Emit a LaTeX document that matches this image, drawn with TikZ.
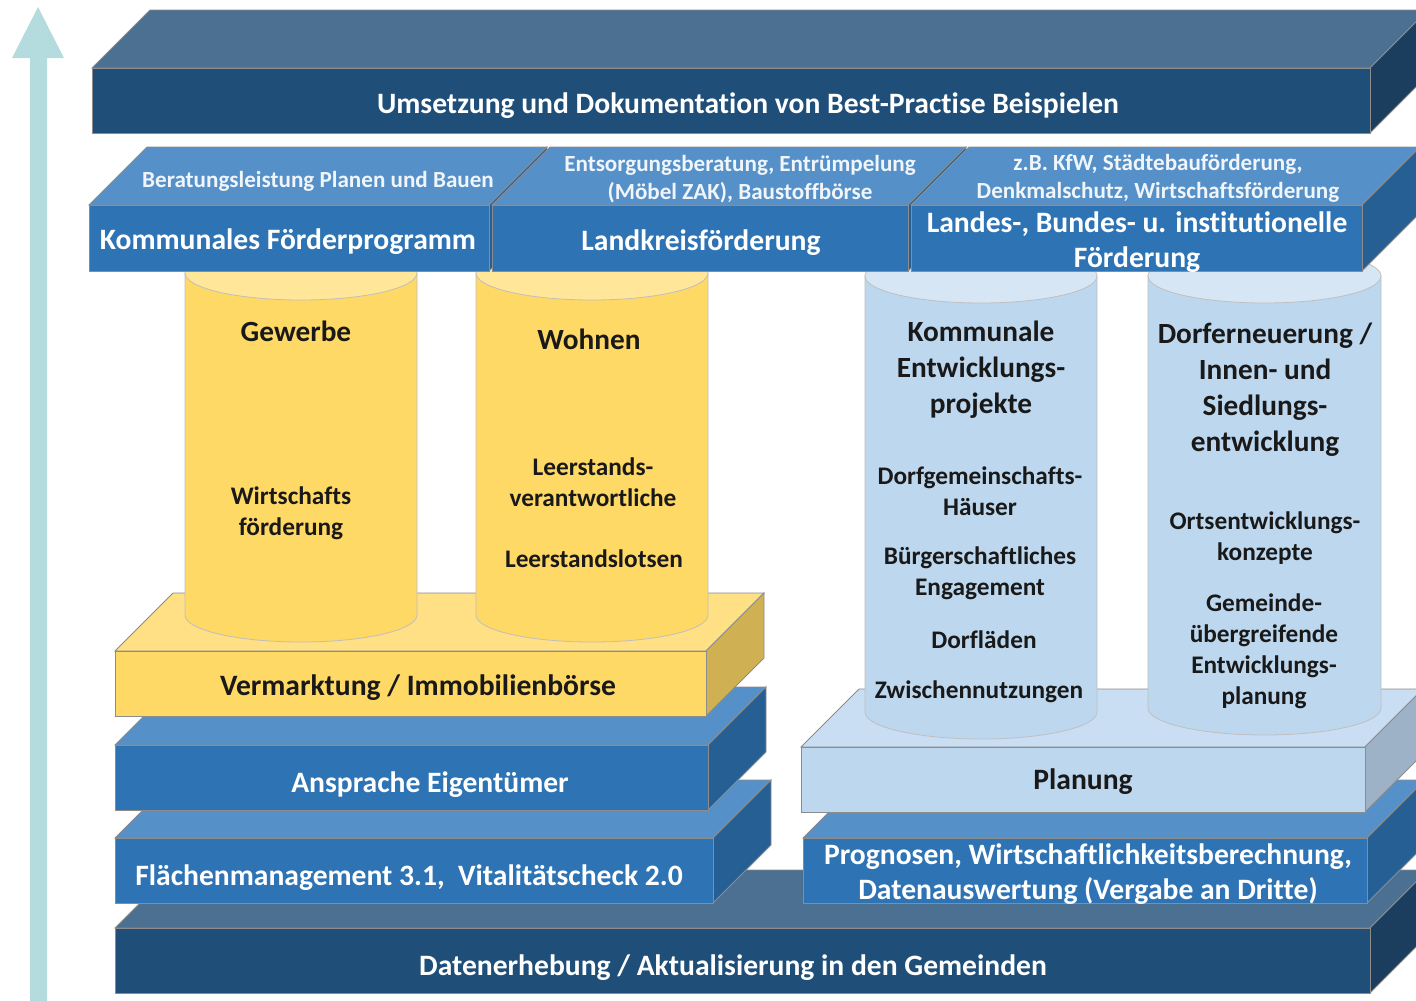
\documentclass[tikz,border=0pt]{standalone}
\usepackage{fontspec}
\setmainfont{Carlito}[Ligatures=NoCommon]

% colour families for the slabs: top face, front face, side face
\definecolor{navytop}{HTML}{4B7091}
\definecolor{navyfront}{HTML}{1F4E79}
\definecolor{navyside}{HTML}{1B3D5E}
\definecolor{bluetop}{HTML}{5690C8}
\definecolor{bluefront}{HTML}{2E74B5}
\definecolor{blueside}{HTML}{265F94}
\definecolor{goldtop}{HTML}{FFE084}
\definecolor{goldfront}{HTML}{FFD966}
\definecolor{goldside}{HTML}{CFB052}
\definecolor{skytop}{HTML}{C9DEF2}
\definecolor{skyfront}{HTML}{BDD7EE}
\definecolor{skyside}{HTML}{9DB2C7}
\definecolor{goldlid}{HTML}{FFE699}
\definecolor{skylid}{HTML}{D7E6F5}
\definecolor{pfeil}{HTML}{B4DCDE}
\definecolor{kante}{HTML}{8C8C8C}

\tikzset{
  outline/.style={draw=kante, line width=.8pt},
  lbl/.style={font=\bfseries\fontsize{29.6}{35}\selectfont, text=white, align=center, inner sep=0pt},
  toplbl/.style={font=\bfseries\fontsize{23.1}{28}\selectfont, text=white!93!bluefront, align=center, inner sep=0pt},
  head/.style={font=\bfseries\fontsize{29.3}{36}\selectfont, text=black!90, align=center, inner sep=0pt},
  sub/.style={font=\bfseries\fontsize{25.3}{31}\selectfont, text=black!90, align=center, inner sep=0pt},
}

% slab: front face from (#1,#2) to (#3,#4), colour family #5
\newcommand\brick[5]{%
  \filldraw[outline, fill=#5top] (#1,#2) -- ++(58,-58) -- ({#3+58},{#2-58}) -- (#3,#2) -- cycle;
  \filldraw[outline, fill=#5side] (#3,#2) -- ++(58,-58) -- ({#3+58},{#4-58}) -- (#3,#4) -- cycle;
  \filldraw[outline, fill=#5front] (#1,#2) rectangle (#3,#4);
}
% column: x from #1 to #2, lid at #3, foot at #4, body #5, lid #6
\newcommand\tonne[6]{%
  \pgfmathsetmacro\rx{(#2-#1)/2}
  \filldraw[draw=black!25, line width=.8pt, fill=#5] (#1,#3) -- (#1,#4)
    arc[start angle=180, end angle=360, x radius=\rx pt, y radius=27pt] -- (#2,#3) -- cycle;
  \filldraw[draw=black!25, line width=.8pt, fill=#6] ({(#1+#2)/2},#3) ellipse[x radius=\rx pt, y radius=27pt];
}

\begin{document}
\begin{tikzpicture}[x=1pt, y=-1pt]
   \useasboundingbox (0,0) rectangle (1416,1001);
   \clip (0,0) rectangle (1416,1001);

   % arrow on the left
   \fill[pfeil] (30,1001) -- (30,58) -- (12,58) -- (38,7) -- (64,58) -- (47,58) -- (47,1001) -- cycle;

   % base layers, bottom up
   \brick{115}{928}{1370}{993}{navy}
   \brick{115}{838}{713}{903}{blue}
   \brick{803}{838}{1367}{903}{blue}
   \brick{115}{745}{708}{810}{blue}
   \brick{801}{747}{1365}{812}{sky}
   \brick{115}{651}{706}{716}{gold}

   % columns
   \tonne{185}{417}{273}{615}{goldfront}{goldlid}
   \tonne{476}{708}{273}{615}{goldfront}{goldlid}
   \tonne{865}{1097}{276}{712}{skyfront}{skylid}
   \tonne{1148}{1381}{276}{708}{skyfront}{skylid}

   % funding row and roof
   \brick{89}{205}{489}{271}{blue}
   \brick{492}{205}{908}{271}{blue}
   \brick{911}{205}{1362}{271}{blue}
   \brick{92}{68}{1370}{133}{navy}

   \node[lbl] (umsetzung) at (748,106) {Umsetzung und Dokumentation von Best-Practise Beispielen};
   \node[toplbl] (beratung) at (318,181) {Beratungsleistung Planen und Bauen};
   \node[lbl] (kommprog) at (288,242) {Kommunales Förderprogramm};
   \node[toplbl] (entsorgung) at (740,179) {Entsorgungsberatung, Entrümpelung\\(Möbel ZAK), Baustoffbörse};
   \node[lbl] (landkreis) at (701,243) {Landkreisförderung};
   \node[toplbl] (kfw) at (1158,178) {z.B. KfW, Städtebauförderung,\\Denkmalschutz, Wirtschaftsförderung};
   \node[lbl] (landes) at (1137,242) {Landes-, Bundes- u. institutionelle\\Förderung};

   \node[head] (gewerbe) at (296,331) {Gewerbe};
   \node[sub] (wifoe) at (291,513) {Wirtschafts\\förderung};
   \node[head] (wohnen) at (589,339) {Wohnen};
   \node[sub] (leerstand) at (593,482) {Leerstands-\\verantwortliche};
   \node[sub] (lotsen) at (594,559) {Leerstandslotsen};

   \node[head] (kommunale) at (981,370) {Kommunale\\Entwicklungs-\\projekte};
   \node[sub] (dgh) at (980,491) {Dorfgemeinschafts-\\Häuser};
   \node[sub] (buerger) at (980,573) {Bürgerschaftliches\\Engagement};
   \node[sub] (laeden) at (984,640) {Dorfläden};
   \node[sub] (zwischen) at (979,692) {Zwischennutzungen};

   \node[head] (dorf) at (1265,390) {Dorferneuerung /\\Innen- und\\Siedlungs-\\entwicklung};
   \node[sub] (ortsentw) at (1265,538) {Ortsentwicklungs-\\konzepte};
   \node[sub] (gemeinde) at (1264,651) {Gemeinde-\\übergreifende\\Entwicklungs-\\planung};

   \node[lbl, text=black!90] (vermarktung) at (418,688) {Vermarktung / Immobilienbörse};
   \node[lbl] (ansprache) at (430,785) {Ansprache Eigentümer};
   \node[lbl] (flaeche) at (409,878) {Flächenmanagement 3.1, \ Vitalitätscheck 2.0};
   \node[lbl, text=black!90] (planung) at (1083,782) {Planung};
   \node[lbl] (prognosen) at (1088,874) {Prognosen, Wirtschaftlichkeitsberechnung,\\Datenauswertung (Vergabe an Dritte)};
   \node[lbl] (daten) at (733,968) {Datenerhebung / Aktualisierung in den Gemeinden};
\end{tikzpicture}
\end{document}
